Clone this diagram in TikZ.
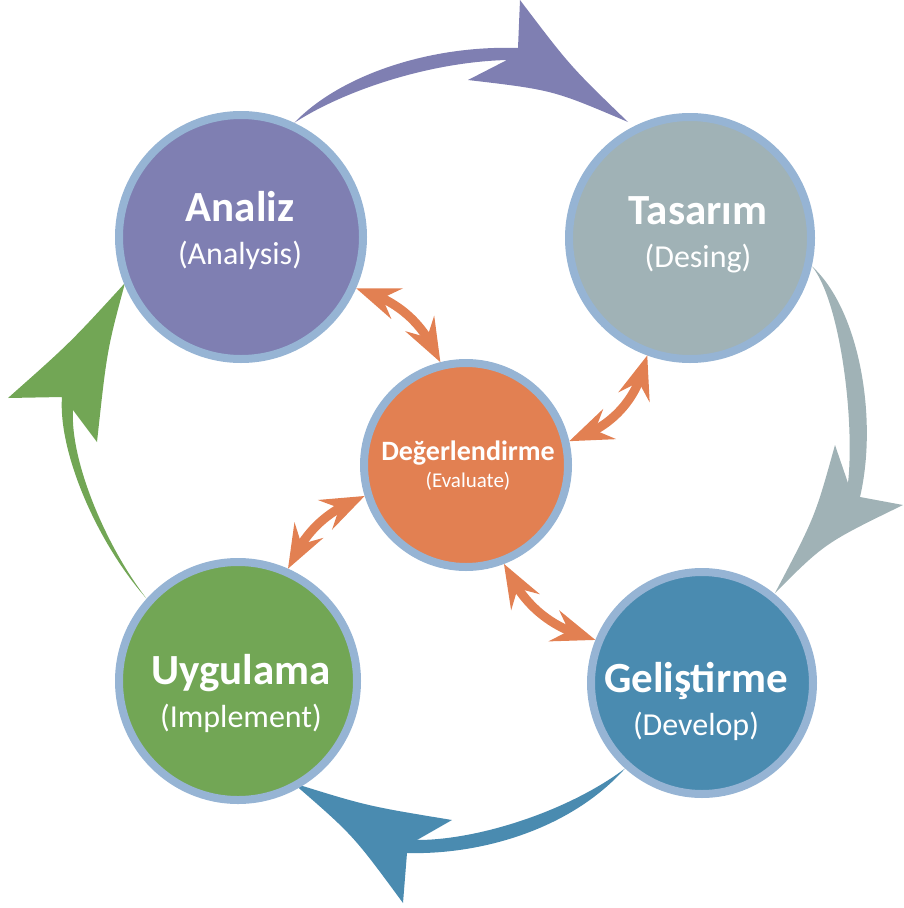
\documentclass[tikz,border=0pt]{standalone}
\usepackage{fontspec}
\setmainfont{Carlito}
\usetikzlibrary{arrows.meta,bending,backgrounds}

\definecolor{analizc}{HTML}{7F7FB2}
\definecolor{tasarimc}{HTML}{A0B2B6}
\definecolor{gelistirmec}{HTML}{4A8BB0}
\definecolor{uygulamac}{HTML}{72A655}
\definecolor{evalc}{HTML}{E28052}
\definecolor{rimc}{HTML}{96B4D4}

\tikzstyle{phase} = [circle, draw=rimc, line width=8pt, inner sep=0pt]
\tikzstyle{lbl} = [text=white, align=center, inner sep=0pt,
    font=\fontsize{32}{43}\selectfont]
\tikzstyle{smalllbl} = [lbl, font=\fontsize{21}{27}\selectfont]
\tikzstyle{twoway} = [draw=evalc, line width=9pt,
    {Stealth[length=44pt,width=33pt,inset=16pt,line width=0pt]}-{Stealth[length=44pt,width=33pt,inset=16pt,line width=0pt]}]

\begin{document}
\begin{tikzpicture}[x=1pt, y=-1pt]
    \useasboundingbox (0,0) rectangle (903,908);

    % Nodes
    \node [phase, fill=analizc, minimum size=244pt] (analiz) at (241,237) {};
    \node [phase, fill=tasarimc, minimum size=242pt] (tasarim) at (690,238) {};
    \node [phase, fill=gelistirmec, minimum size=222pt] (gelistirme) at (702,683) {};
    \node [phase, fill=uygulamac, minimum size=238pt] (uygulama) at (238,681) {};
    \node [phase, fill=evalc, minimum size=204pt] (eval) at (466,465) {};

    % Labels
    \node [lbl] (analiztxt) at (240,230) {{\fontsize{43}{43}\selectfont\bfseries Analiz}\\(Analysis)};
    \node [lbl] (tasarimtxt) at (698,235) {{\fontsize{43}{43}\selectfont\bfseries Tasarım}\\(Desing)};
    \node [lbl] (gelistirmetxt) at (696,701) {{\fontsize{43}{43}\selectfont\bfseries Geliştirme}\\(Develop)};
    \node [lbl] (uygulamatxt) at (241,693) {{\fontsize{43}{43}\selectfont\bfseries Uygulama}\\(Implement)};
    \node [smalllbl] (evaltxt) at (468,466) {{\fontsize{28}{27}\selectfont\bfseries Değerlendirme}\\(Evaluate)};

    % Cycle arrows
    \begin{pgfonlayer}{background}
    \fill [analizc] (analiz.65) .. controls (340,75) and (430,45) .. (518,48)
        -- (520,0) .. controls (570,66) .. (628,122)
        .. controls (553,90) .. (468,80) -- (507,60)
        .. controls (430,62) and (345,90) .. (analiz.65) -- cycle;
    \fill [tasarimc] (tasarim.-13) .. controls (840,300) and (855,420) .. (848,483)
        -- (835,445) .. controls (815,517) .. (775,593)
        .. controls (825,543) .. (903,505) -- (860,497)
        .. controls (878,420) and (860,310) .. (tasarim.-13) -- cycle;
    \fill [gelistirmec] (gelistirme.228) .. controls (570,810) and (480,840) .. (417,840)
        -- (452,820) .. controls (367,806) .. (293,783)
        .. controls (353,835) .. (403,903) -- (407,853)
        .. controls (480,855) and (570,830) .. (gelistirme.228) -- cycle;
    \fill [uygulamac] (uygulama.138) .. controls (95,540) and (58,450) .. (62,397)
        -- (8,398) .. controls (70,343) .. (125,283)
        .. controls (107,350) .. (97,442) -- (73,410)
        .. controls (70,460) and (105,545) .. (uygulama.138) -- cycle;
    \end{pgfonlayer}

    % Connections
    \draw [twoway] (eval.104) to [bend right=25] (analiz.-24);
    \draw [twoway] (eval.13) to [bend right=30] (tasarim.250);
    \draw [twoway] (eval.197) to [bend right=22] (uygulama.66);
    \draw [twoway] (eval.291) to [bend right=25] (gelistirme.158);

\end{tikzpicture}
\end{document}
